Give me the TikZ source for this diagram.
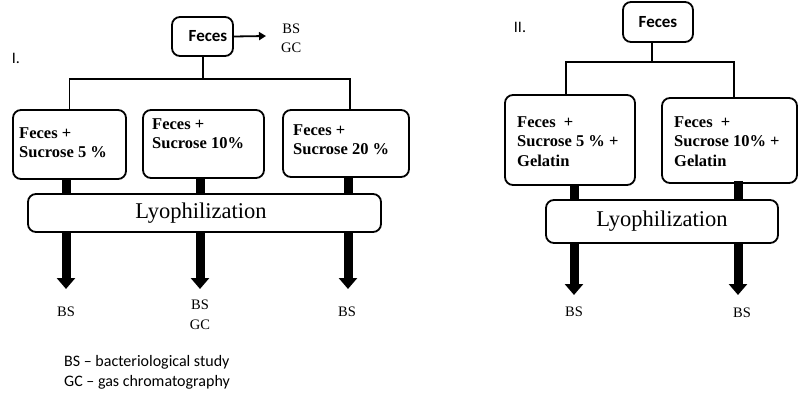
\documentclass[tikz,border=0pt]{standalone}
\usepackage{fontspec}
\setmainfont{Liberation Serif}
\newfontfamily\carl{Carlito}
\usetikzlibrary{arrows.meta}
\begin{document}
\begin{tikzpicture}[x=1pt,y=-1pt,
  box/.style={draw, line width=1.8pt, rounded corners=8pt, inner sep=0pt},
  boxtxt/.style={anchor=north west, inner sep=0pt, align=left, font=\fontsize{16.5}{19.5}\selectfont\bfseries},
  lyotxt/.style={font=\fontsize{22.5}{26}\selectfont},
  lab/.style={inner sep=0pt, align=center, font=\fontsize{14.5}{19.5}\selectfont},
  sanstxt/.style={inner sep=0pt, align=left, font=\carl\fontsize{16}{20}\selectfont},
  conn/.style={line width=1.8pt},
  stub/.style={line width=9pt},
  bigarr/.style={line width=9pt, -{Triangle[width=18pt,length=11pt]}},
  smallarr/.style={line width=1.8pt, -{Triangle[width=8pt,length=7pt]}}
]
\useasboundingbox (0,0) rectangle (800,401);

% ---------- Panel I ----------
\node[sanstxt] (n1) at (16,58) {I.};
\node[box, minimum width=61pt, minimum height=39pt] (f1) at (202.5,36.5) {};
\node[inner sep=0pt, font=\carl\fontsize{17}{20}\selectfont\bfseries] (f1t) at (208,36.5) {Feces};
\coordinate (f1a) at (266,36);
\draw[smallarr] (f1.east) -- (f1a);
\node[lab, anchor=west] (f1l) at (281,38.5) {BS\\GC};

\node[box, minimum width=113pt, minimum height=69pt] (b1) at (69.5,144.5) {};
\node[box, minimum width=121pt, minimum height=68pt] (b2) at (203.5,144) {};
\node[box, minimum width=126pt, minimum height=67pt] (b3) at (346,143.5) {};
\node[boxtxt] (b1t) at (19,127) {Feces +\\Sucrose 5 \%};
\node[boxtxt] (b2t) at (152,118) {Feces +\\Sucrose 10\%};
\node[boxtxt] (b3t) at (293,124) {Feces +\\Sucrose 20 \%};

\coordinate (j1) at (203,79);
\draw[conn] (f1.south -| j1) -- (j1);
\draw[conn] (b1.north) |- (j1) -| ([xshift=4pt]b3.north);

\node[box, minimum width=353pt, minimum height=38pt] (l1) at (204.5,213) {};
\node[lyotxt] (l1t) at (201,213) {Lyophilization};

\node[lab] (r1) at (66,312) {BS};
\node[lab] (r2) at (200,315) {BS\\GC};
\node[lab] (r3) at (347,312) {BS};

\draw[stub] ([xshift=-3.5pt]b1.south) -- ([xshift=-3.5pt]b1.south |- l1.north);
\draw[stub] ([xshift=-3.5pt]b2.south) -- ([xshift=-3.5pt]b2.south |- l1.north);
\draw[stub] ([xshift=2pt]b3.south) -- ([xshift=2pt]b3.south |- l1.north);

\coordinate (a1) at (66,289);
\coordinate (a2) at (200,289);
\coordinate (a3) at (348,289);
\draw[bigarr] (l1.south -| a1) -- (a1);
\draw[bigarr] (l1.south -| a2) -- (a2);
\draw[bigarr] (l1.south -| a3) -- (a3);

\node[sanstxt, anchor=west] (leg) at (64,372) {BS – bacteriological study\\GC – gas chromatography};

% ---------- Panel II ----------
\node[sanstxt] (n2) at (520,27) {II.};
\node[box, minimum width=70pt, minimum height=40pt] (f2) at (658,22) {};
\node[inner sep=0pt, font=\carl\fontsize{17}{20}\selectfont\bfseries] (f2t) at (658,22) {Feces};

\node[box, minimum width=130pt, minimum height=90pt] (b4) at (570,140) {};
\node[box, minimum width=135pt, minimum height=85pt] (b5) at (729.5,140.5) {};
\node[boxtxt] (b4t) at (517,116) {Feces~ +\\Sucrose 5 \% +\\Gelatin};
\node[boxtxt] (b5t) at (674,116) {Feces~ +\\Sucrose 10\% +\\Gelatin};

\coordinate (j2) at (652,62);
\draw[conn] (j2 |- f2.south) -- (j2);
\draw[conn] ([xshift=-4pt]b4.north) |- (j2) -| ([xshift=4.5pt]b5.north);

\node[box, minimum width=232pt, minimum height=43pt] (l2) at (662,221.5) {};
\node[lyotxt] (l2t) at (662,221.5) {Lyophilization};

\draw[stub] ([xshift=4pt]b4.south) -- ([xshift=4pt]b4.south |- l2.north);
\draw[stub] ([xshift=8.5pt,yshift=3pt]b5.south) -- ([xshift=8.5pt]b5.south |- l2.north);

\node[lab] (r4) at (574,312) {BS};
\node[lab] (r5) at (742,313) {BS};
\coordinate (a4) at (574,295);
\coordinate (a5) at (738,295);
\draw[bigarr] (l2.south -| a4) -- (a4);
\draw[bigarr] (l2.south -| a5) -- (a5);
\end{tikzpicture}
\end{document}
